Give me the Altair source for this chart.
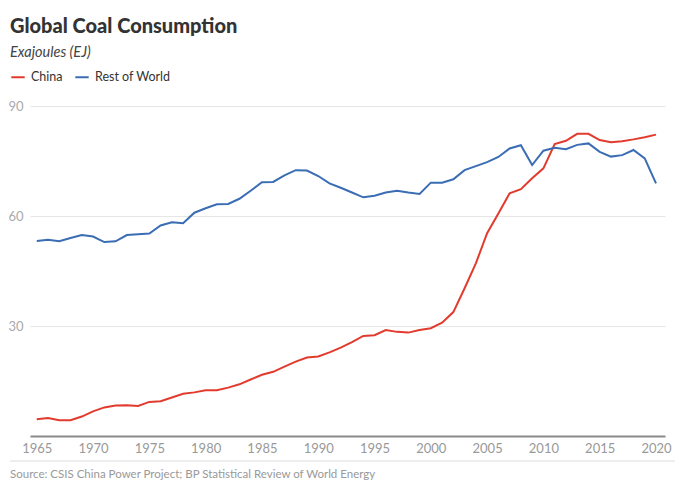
import altair as alt
import pandas as pd

years = list(range(1965, 2021))
china = [4.55, 4.9, 4.3, 4.3, 5.3, 6.7, 7.8, 8.3, 8.4, 8.2,
         9.3, 9.5, 10.5, 11.5, 11.9, 12.5, 12.5, 13.2, 14.1, 15.4,
         16.7, 17.5, 18.9, 20.3, 21.4, 21.7, 22.8, 24.1, 25.6, 27.3,
         27.5, 28.9, 28.4, 28.2, 28.9, 29.4, 30.9, 33.8, 40.3, 47.1,
         55.3, 60.7, 66.2, 67.3, 70.3, 73.0, 79.6, 80.5, 82.4, 82.4,
         80.7, 80.1, 80.4, 80.9, 81.5, 82.2]
rest_of_world = [53.2, 53.5, 53.1, 54.0, 54.8, 54.4, 52.9, 53.1, 54.8, 55.0,
                 55.2, 57.4, 58.3, 58.0, 60.9, 62.1, 63.2, 63.3, 64.7, 66.9,
                 69.2, 69.3, 71.1, 72.5, 72.4, 70.9, 68.9, 67.7, 66.4, 65.1,
                 65.5, 66.4, 66.9, 66.4, 66.0, 69.1, 69.1, 70.0, 72.5, 73.6,
                 74.7, 76.1, 78.4, 79.3, 73.9, 77.8, 78.6, 78.2, 79.4, 79.8,
                 77.5, 76.2, 76.6, 78.0, 75.7, 68.9]
series_names = ["China", "Rest of World"]
series_colors = ["#e23b2e", "#3a6db3"]
x_ticks = list(range(1965, 2021, 5))
y_ticks = [30, 60, 90]
title_text = "Global Coal Consumption"
subtitle_text = "Exajoules (EJ)"
source_text = "Source: CSIS China Power Project; BP Statistical Review of World Energy"

FONT = "Lato"
W, H = 635, 330

df = pd.DataFrame({
    "year": years * 2,
    "value": china + rest_of_world,
    "series": [series_names[0]] * len(years) + [series_names[1]] * len(years),
})

lines = alt.Chart(df).mark_line(strokeWidth=2).encode(
    x=alt.X("year:Q",
            scale=alt.Scale(domain=[1964.4, 2020.8], nice=False, zero=False),
            axis=alt.Axis(values=x_ticks, format="d", title=None, grid=False,
                          ticks=False, domain=True, domainColor="#8a8a8a",
                          domainWidth=2, labelColor="#999999", labelFontSize=13,
                          labelFont=FONT, labelPadding=6)),
    y=alt.Y("value:Q",
            scale=alt.Scale(domain=[0, 90], nice=False),
            axis=alt.Axis(values=y_ticks, title=None, grid=True, gridColor="#e6e6e6",
                          ticks=False, domain=False, labelColor="#aaaaaa",
                          labelFontSize=13, labelFont=FONT, labelPadding=7)),
    color=alt.Color("series:N",
                    scale=alt.Scale(domain=series_names, range=series_colors),
                    legend=alt.Legend(orient="none", legendX=-20, legendY=-37,
                                      direction="horizontal", title=None,
                                      symbolType="stroke", symbolStrokeWidth=2,
                                      symbolSize=180, labelFontSize=12.5,
                                      labelFont=FONT, labelColor="#333333",
                                      columnPadding=8, labelOffset=5)),
)

source_df = pd.DataFrame({"t": [source_text]})
source = alt.Chart(source_df).mark_text(
    align="left", baseline="middle", fontSize=11.5, font=FONT, color="#999999"
).encode(text="t:N", x=alt.value(-20), y=alt.value(369))

rule = alt.Chart(source_df).mark_rule(color="#dddddd", strokeWidth=1).encode(
    x=alt.value(-20), x2=alt.value(645), y=alt.value(355))

chart = alt.layer(lines, rule, source).properties(
    width=W, height=H,
    title=alt.TitleParams(text=title_text, subtitle=subtitle_text, anchor="start",
                          frame="group", font=FONT, fontSize=20, fontWeight=900,
                          color="#333333", subtitleFont=FONT, subtitleFontSize=14.5,
                          subtitleFontStyle="italic", subtitleColor="#444444",
                          subtitlePadding=9, offset=10, dx=-20),
    autosize=alt.AutoSizeParams(type="none"),
    padding={"left": 30, "top": 106, "right": 15, "bottom": 55},
).configure_view(stroke=None)

chart.save("out.html", embed_options={"renderer": "svg", "actions": False})
